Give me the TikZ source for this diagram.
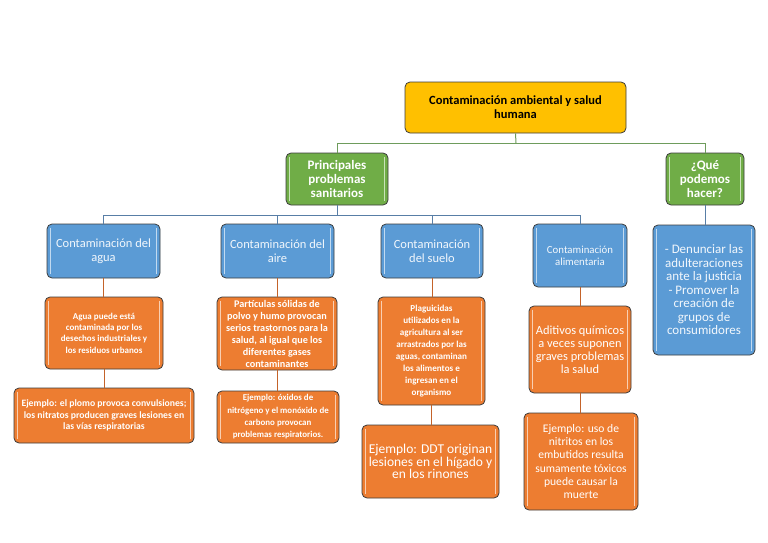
\documentclass[tikz,border=0pt]{standalone}
\usepackage{fontspec}
\setmainfont{Carlito}
\definecolor{cyel}{HTML}{FFC000}
\definecolor{cgreen}{HTML}{70AD47}
\definecolor{cblue}{HTML}{5B9BD5}
\definecolor{corange}{HTML}{ED7D31}
\definecolor{bgreen}{HTML}{C9E3B8}
\definecolor{bblue}{HTML}{C2DAF0}
\definecolor{borange}{HTML}{F9CFB2}
\definecolor{edgecol}{HTML}{3C3C3C}
\definecolor{lgreen}{HTML}{6E9C5C}
\definecolor{lblue}{HTML}{587EA6}
\definecolor{lorange}{HTML}{C4632A}
\definecolor{btext}{HTML}{F2F7FC}
\tikzset{
  box/.style={draw=edgecol, line width=0.8pt, rounded corners=5pt, align=center, inner sep=1pt},
  bars/.style={path picture={
     \draw[#1, line width=1.6pt]
       ([xshift=3.5pt,yshift=-4pt]path picture bounding box.north west) --
       ([xshift=3.5pt,yshift=4pt]path picture bounding box.south west);
     \draw[#1, line width=1.6pt]
       ([xshift=-3.5pt,yshift=-4pt]path picture bounding box.north east) --
       ([xshift=-3.5pt,yshift=4pt]path picture bounding box.south east);}},
  topbox/.style={box, fill=cyel, text=black, font=\bfseries\fontsize{12.5}{14}\selectfont},
  greenbox/.style={box, fill=cgreen, text=white, bars=bgreen, font=\bfseries\fontsize{13}{14}\selectfont},
  bluebox/.style={box, fill=cblue, text=btext, bars=bblue},
  orangebox/.style={box, fill=corange, text=white, bars=borange},
  gline/.style={draw=lgreen, line width=1pt},
  bline/.style={draw=lblue, line width=1pt},
  oline/.style={draw=lorange, line width=1pt}
}
\begin{document}
\begin{tikzpicture}[x=1pt,y=-1pt]
\useasboundingbox (0,0) rectangle (768,543);
% nodes
\node[topbox, minimum width=221pt, minimum height=51pt] (top) at (515.5,107.5) {Contaminación ambiental y salud\\humana};
\node[greenbox, minimum width=102pt, minimum height=52pt] (g1) at (337,179) {Principales\\problemas\\sanitarios};
\node[greenbox, minimum width=78pt, minimum height=52pt] (g2) at (705,179) {¿Qué\\podemos\\hacer?};
\node[bluebox, minimum width=113pt, minimum height=54pt, font=\fontsize{12.5}{14}\selectfont] (b1) at (103.5,251) {Contaminación del\\agua};
\node[bluebox, minimum width=113pt, minimum height=54pt, font=\fontsize{12.5}{14}\selectfont] (b2) at (277.5,251) {Contaminación del\\aire};
\node[bluebox, minimum width=102pt, minimum height=54pt, font=\fontsize{12.5}{14}\selectfont] (b3) at (432,251) {Contaminación\\del suelo};
\node[bluebox, minimum width=94pt, minimum height=63pt, font=\fontsize{10.8}{12.3}\selectfont] (b4) at (580,255.5) {Contaminación\\alimentaria};
\node[bluebox, minimum width=102pt, minimum height=130pt, font=\fontsize{13}{13.5}\selectfont] (b5) at (704,290) {- Denunciar las\\adulteraciones\\ante la justicia\\- Promover la\\creación de\\grupos de\\consumidores};
\node[orangebox, minimum width=118pt, minimum height=72pt, font=\bfseries\fontsize{9}{11.3}\selectfont] (o1) at (104,333) {Agua puede está\\contaminada por los\\desechos industriales y\\los residuos urbanos};
\node[orangebox, minimum width=180pt, minimum height=55pt, font=\bfseries\fontsize{9.7}{11.5}\selectfont] (o5) at (104,415.5) {Ejemplo: el plomo provoca convulsiones;\\los nitratos producen graves lesiones en\\las vías respiratorias};
\node[orangebox, minimum width=120pt, minimum height=73pt, font=\bfseries\fontsize{10.2}{12}\selectfont] (o2) at (277,333.5) {Partículas sólidas de\\polvo y humo provocan\\serios trastornos para la\\salud, al igual que los\\diferentes gases\\contaminantes};
\node[orangebox, minimum width=122pt, minimum height=52pt, font=\bfseries\fontsize{8.9}{12.3}\selectfont] (o6) at (278,417) {Ejemplo: óxidos de\\nitrógeno y el monóxido de\\carbono provocan\\problemas respiratorios.};
\node[orangebox, minimum width=107pt, minimum height=108pt, font=\bfseries\fontsize{9.1}{12}\selectfont] (o3) at (431.5,351) {Plaguicidas\\utilizados en la\\agricultura al ser\\arrastrados por las\\aguas, contaminan\\los alimentos e\\ingresan en el\\organismo};
\node[orangebox, minimum width=137pt, minimum height=73pt, font=\fontsize{13.5}{12.5}\selectfont] (o7) at (430.5,461.5) {Ejemplo: DDT originan\\lesiones en el hígado y\\en los rinones};
\node[orangebox, minimum width=102pt, minimum height=87pt, font=\fontsize{12.4}{13}\selectfont] (o4) at (580,349.5) {Aditivos químicos\\a veces suponen\\graves problemas\\la salud};
\node[orangebox, minimum width=114pt, minimum height=97pt, font=\fontsize{11.6}{13.3}\selectfont] (o8) at (581,461.5) {Ejemplo: uso de\\nitritos en los\\embutidos resulta\\sumamente tóxicos\\puede causar la\\muerte};
% connectors
\coordinate (jg) at (516,143);
\draw[gline] (top.south) -- (jg);
\draw[gline] (jg) -| (g1.north);
\draw[gline] (jg) -| (g2.north);
\coordinate (jb) at (337,215);
\draw[bline] (g1.south) -- (jb);
\draw[bline] (jb) -| (b1.north);
\draw[bline] (jb) -| (b2.north);
\draw[bline] (jb) -| (b3.north);
\draw[bline] (jb) -| (b4.north);
\draw[bline] (g2.south) -- (g2.south |- b5.north);
\draw[oline] (b1.south) -- (b1.south |- o1.north);
\draw[oline] (o1.south) -- (o1.south |- o5.north);
\draw[oline] (b2.south) -- (b2.south |- o2.north);
\draw[oline] (o2.south) -- (o2.south |- o6.north);
\draw[oline] (b3.south) -- (b3.south |- o3.north);
\draw[oline] (o3.south) -- (o3.south |- o7.north);
\draw[oline] (b4.south) -- (b4.south |- o4.north);
\draw[oline] (o4.south) -- (o4.south |- o8.north);
\end{tikzpicture}
\end{document}
